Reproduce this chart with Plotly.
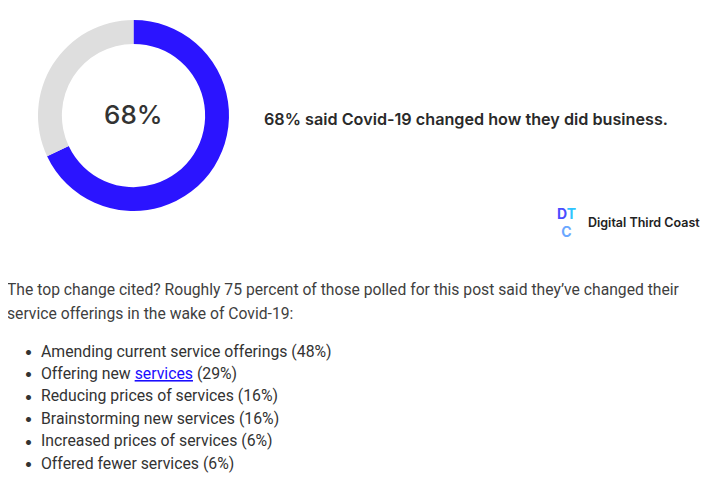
import plotly.graph_objects as go

# donut data
donut_labels = ["Changed", "Did not change"]
donut_values = [68, 32]
donut_colors = ["#2B14FF", "#DEDEDE"]
center_label = "68%"

headline = "68% said Covid-19 changed how they did business."
intro_lines = [
    "The top change cited? Roughly 75 percent of those polled for this post said they\u2019ve changed their",
    "service offerings in the wake of Covid-19:",
]

# bullet list
change_items = [
    "Amending current service offerings",
    "Offering new <span style='color:#1a0dff;text-decoration:underline'>services</span>",
    "Reducing prices of services",
    "Brainstorming new services",
    "Increased prices of services",
    "Offered fewer services",
]
change_pcts = [48, 29, 16, 16, 6, 6]

W, H = 716, 481
OFF = 8  # page body margin
FONT = "Inter, 'Open Sans', sans-serif"
BODY = "Roboto, 'Liberation Sans', sans-serif"


def px(x):
    return (x - OFF) / W


def py(y):
    return 1 - (y - OFF) / H


fig = go.Figure()

fig.add_trace(go.Pie(
    labels=donut_labels,
    values=donut_values,
    hole=0.75,
    sort=False,
    direction="clockwise",
    rotation=0,
    marker=dict(colors=donut_colors, line=dict(width=0)),
    textinfo="none",
    hoverinfo="label+percent",
    showlegend=False,
    domain=dict(x=[px(38), px(229)], y=[py(211), py(20)]),
))

ann = []


def note(x, y, text, size, color, weight=400, anchor="left", family=FONT):
    if anchor == "left":
        x -= 2.5
    ann.append(dict(x=px(x), y=py(y), xref="paper", yref="paper", text=text,
                    showarrow=False, xanchor=anchor, yanchor="middle",
                    font=dict(family=family, size=size, color=color, weight=weight)))


note(133, 114, center_label, 26, "#333333", weight=500, anchor="center")
note(264, 119, headline, 16.2, "#2a2a2a", weight=600)

# logo mark + name
logo = ("<span style='color:#4a4dff'>D</span><span style='color:#2fc4ff'>T</span>"
        "<br><span style='color:#6aa8ff'>C</span>")
note(566, 222, logo, 14, "#4a4dff", weight=700, anchor="center")
note(588, 222, "Digital Third Coast", 12.5, "#222222", weight=600)

for i, line in enumerate(intro_lines):
    note(7, 289 + i * 24, line, 15.7, "#3f3f3f", family=BODY)

for i, (item, pct) in enumerate(zip(change_items, change_pcts)):
    yy = 351 + i * 22.4
    note(28, yy, "\u2022", 16, "#333333", anchor="center", family=FONT)
    note(41, yy, f"{item} ({pct}%)", 15.8, "#333333", family=BODY)

fig.update_layout(
    width=W, height=H,
    margin=dict(l=0, r=0, t=0, b=0),
    paper_bgcolor="white",
    annotations=ann,
)

fig.write_html("out.html")
